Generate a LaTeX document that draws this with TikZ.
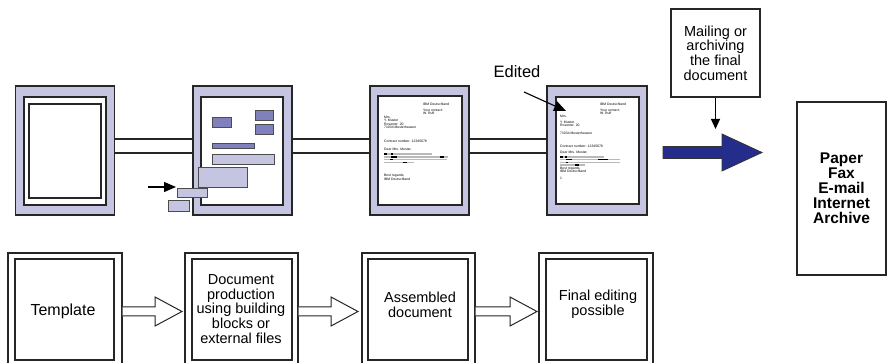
\documentclass[tikz,border=0pt]{standalone}
\usepackage{fontspec}
\setmainfont{Liberation Sans}
\usetikzlibrary{arrows.meta,calc}
\definecolor{lav}{RGB}{197,197,226}
\definecolor{midb}{RGB}{128,128,188}
\definecolor{navy}{RGB}{36,44,140}
\begin{document}
\begin{tikzpicture}[x=1pt,y=-1pt,
  frame/.style={draw=black!85,line width=1.3pt,fill=lav,inner sep=0pt,minimum width=99pt,minimum height=129pt},
  page/.style={draw=black!85,line width=1.1pt,fill=white},
  dbox/.style={draw=black!70,line width=0.8pt,fill=midb},
  lbox/.style={draw=black!70,line width=0.8pt,fill=lav},
  conn/.style={draw=black!85,line width=1.2pt},
  tiny/.style={font=\fontsize{3.4}{3.6}\selectfont,inner sep=0pt,anchor=west},
  bar/.style={draw=gray!55,line width=1.1pt},
  blk/.style={draw=black,line width=1.3pt},
  txt/.style={font=\fontsize{14.5}{14.7}\selectfont,align=center,inner sep=0pt},
  obox/.style={draw=black!85,line width=1.2pt,fill=white,inner sep=0pt},
  ibox/.style={draw=black!85,line width=1.1pt},
  harrow/.style={draw=black!85,line width=1pt,fill=white,line join=miter},
  blackhead/.style={draw=black,line width=1.1pt,-{Triangle[length=12pt,width=10pt]}}
]
\useasboundingbox (0,0) rectangle (889,363);
\clip (0,0) rectangle (889,363);

% ---------- top row frames ----------
\node[frame] (f1) at (65,150.5) {};
\node[frame] (f2) at (242.5,150.5) {};
\node[frame] (f3) at (419.5,150.5) {};
\node[frame,minimum width=100pt] (f4) at (597,150.5) {};

% connectors (double lines)
\foreach \a/\b in {f1/f2,f2/f3,f3/f4}{
  \draw[conn] ([yshift=11.5pt]\a.east) -- ([yshift=11.5pt]\b.west);
  \draw[conn] ([yshift=-2.5pt]\a.east) -- ([yshift=-2.5pt]\b.west);
}

% frame 1: template
\draw[page] (24,97) rectangle (106,205);
\draw[page] (29,104) rectangle (101,198);

% frame 2: building blocks
\draw[page] (201,97) rectangle (283,205);
\draw[dbox] (212,117) rectangle (231,127);
\draw[dbox] (255,110) rectangle (273,120);
\draw[dbox] (255,124) rectangle (273,134);
\draw[dbox] (212,143) rectangle (254,148);
\draw[lbox] (212,154) rectangle (274,164);
\draw[lbox] (198,167) rectangle (247,187);
\draw[lbox] (177,188) rectangle (207,197);
\draw[lbox] (168,200) rectangle (189,211);
\coordinate (ba0) at (148,187);
\coordinate (ba1) at (176,187);
\draw[blackhead] (ba0) -- (ba1);

% frame 3: assembled letter
\draw[page] (378,96) rectangle (462,205);
\node[tiny] at (423,104) {IBM Deutschland};
\node[tiny] at (423,110.5) {Your contact:};
\node[tiny] at (423,113.7) {W. Ruff};
\node[tiny] at (384,117.5) {Mrs.};
\node[tiny] at (384,120.8) {Y. Muster};
\node[tiny] at (384,124.1) {Rosenstr. 20};
\node[tiny] at (384,127.4) {71034 Musterhausen};
\node[tiny] at (384,141.5) {Contract number: 12345678};
\node[tiny] at (384,149.5) {Dear Mrs. Muster,};
\draw[bar] (384,154) -- (432,154);
\draw[bar] (384,157) -- (448,157);
\draw[bar] (384,159.7) -- (447,159.7);
\draw[bar] (384,162.5) -- (414,162.5);
\draw[blk] (384,154) -- (386.5,154) (391,154) -- (393,154);
\draw[blk] (391,157) -- (397,157) (440,157) -- (444,157);
\draw[blk] (390,159.7) -- (393,159.7);
\draw[blk] (403,162.5) -- (407,162.5);
\node[tiny] at (384,175.5) {Best regards,};
\node[tiny] at (384,178.8) {IBM Deutschland};

% frame 4: final letter
\draw[page] (556,97) rectangle (639,204);
\node[tiny] at (600,104) {IBM Deutschland};
\node[tiny] at (600,110.5) {Your contact:};
\node[tiny] at (600,113.7) {W. Ruff};
\node[tiny] at (560,116.5) {Mrs.};
\node[tiny] at (560,122) {Y. Muster};
\node[tiny] at (560,125.2) {Rosenstr. 20};
\node[tiny] at (560,133) {71034 Musterhausen};
\node[tiny] at (560,146.5) {Contract number: 12345678};
\node[tiny] at (560,152.5) {Dear Mrs. Muster,};
\draw[bar] (560,157) -- (604,157);
\draw[bar] (560,159.7) -- (620,159.7);
\draw[bar] (560,162.4) -- (620,162.4);
\draw[bar] (560,165) -- (585,165);
\draw[blk] (560,157) -- (563,157) (565,157) -- (567,157);
\draw[blk] (566,159.7) -- (572,159.7) (598,159.7) -- (608,159.7);
\draw[blk] (566,162.4) -- (568,162.4);
\draw[blk] (575,165) -- (579,165);
\node[tiny] at (560,168.5) {Best regards,};
\node[tiny] at (560,171.7) {IBM Deutschland};
\node[tiny] at (560,178) {1};

% Edited label and arrow
\node[font=\fontsize{16.5}{18}\selectfont,inner sep=0pt] (edited) at (517,72) {Edited};
\coordinate (e0) at (524,92);
\coordinate (e1) at (566,111);
\draw[blackhead] (e0) -- (e1);

% mailing box and arrow
\node[draw=black!85,line width=1.1pt,minimum width=89pt,minimum height=88pt,inner sep=0pt,
      font=\fontsize{14.5}{14.7}\selectfont,align=center] (mail) at (715.5,53)
      {Mailing or\\archiving\\the final\\document};
\coordinate (m1) at (715.5,129);
\draw[draw=black,line width=1.1pt,-{Triangle[length=10pt,width=9pt]}] (mail.south) -- (m1);

% big blue arrow
\draw[fill=navy,draw=black!80,line width=0.8pt,line join=miter]
  (663,146.5) -- (722,146.5) -- (722,134) -- (762,152.5) -- (722,171) -- (722,158.5) -- (663,158.5) -- cycle;

% output box
\node[draw=black!85,line width=1.1pt,minimum width=89pt,minimum height=173pt,inner sep=0pt,
      font=\bfseries\fontsize{15.5}{15}\selectfont,align=center] (out) at (841.5,188.5)
      {Paper\\Fax\\E-mail\\Internet\\Archive};

% ---------- bottom row ----------
\node[obox,minimum width=114pt,minimum height=115pt] (b1) at (65,310.5) {};
\node[obox,minimum width=113pt,minimum height=115pt] (b2) at (241.5,310.5) {};
\node[obox,minimum width=113pt,minimum height=115pt] (b3) at (418.5,310.5) {};
\node[obox,minimum width=114pt,minimum height=115pt] (b4) at (596,310.5) {};
\draw[ibox] (15,259) rectangle (114,360);
\draw[ibox] (192,259) rectangle (292,360);
\draw[ibox] (368,259) rectangle (468,360);
\draw[ibox] (546,259) rectangle (647,360);

\node[txt,font=\fontsize{16}{17}\selectfont] (t1) at (63,311) {Template};
\node[txt] (t2) at (241,309) {Document\\production\\using building\\blocks or\\external files};
\node[txt] (t3) at (420,305) {Assembled\\document};
\node[txt] (t4) at (598,304) {Final editing\\possible};

% hollow arrows
\draw[harrow] (b1.east |- 0,307) -- (155,307) -- (155,297) -- (182,311.5) -- (155,326) -- (155,316) -- (b1.east |- 0,316);
\draw[harrow] (b2.east |- 0,307) -- (331,307) -- (331,297) -- (358,311.5) -- (331,326) -- (331,316) -- (b2.east |- 0,316);
\draw[harrow] (b3.east |- 0,307) -- (510,307) -- (510,297) -- (537,311.5) -- (510,326) -- (510,316) -- (b3.east |- 0,316);
\end{tikzpicture}
\end{document}
